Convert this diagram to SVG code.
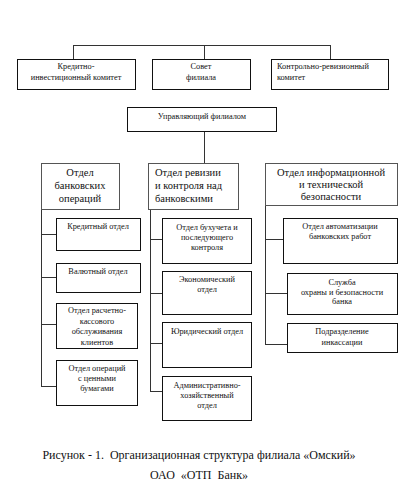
<svg xmlns="http://www.w3.org/2000/svg" width="400" height="495" viewBox="0 0 400 495">
<style>
rect{fill:#fff;stroke:#111;stroke-width:1}
rect.h{stroke:#555}
.c line{stroke:#333;stroke-width:1}
text{font-family:"Liberation Serif","Times New Roman",serif;fill:#111;text-anchor:middle}
.s{font-size:8.3px}
.m{font-size:10.5px}
.l{text-anchor:start}
.cap{font-size:12px}
</style>
<rect x="0" y="0" width="400" height="495" style="stroke:none;fill:#fff"/>
<g class="c" id="connectors">
<line x1="73" y1="45.5" x2="330" y2="45.5"/>
<line x1="73.5" y1="45" x2="73.5" y2="59"/>
<line x1="204.5" y1="45" x2="204.5" y2="59"/>
<line x1="330.5" y1="45" x2="330.5" y2="59"/>
<line x1="204.5" y1="131" x2="204.5" y2="163"/>
<line x1="41.5" y1="209" x2="41.5" y2="386"/>
<line x1="41" y1="234.5" x2="56" y2="234.5"/>
<line x1="41" y1="277.5" x2="56" y2="277.5"/>
<line x1="41" y1="324.5" x2="56" y2="324.5"/>
<line x1="41" y1="386.5" x2="56" y2="386.5"/>
<line x1="150.5" y1="209" x2="150.5" y2="391"/>
<line x1="150" y1="239.5" x2="162" y2="239.5"/>
<line x1="150" y1="293.5" x2="162" y2="293.5"/>
<line x1="150" y1="343.5" x2="162" y2="343.5"/>
<line x1="150" y1="391.5" x2="162" y2="391.5"/>
<line x1="265.5" y1="205" x2="265.5" y2="344"/>
<line x1="265" y1="239.5" x2="283" y2="239.5"/>
<line x1="265" y1="293.5" x2="287" y2="293.5"/>
<line x1="265" y1="344.5" x2="287" y2="344.5"/>
</g>
<g id="kredit-invest">
<rect x="17.5" y="59.5" width="118" height="30"/>
<text class="s" x="76" y="69">Кредитно-</text>
<text class="s" x="76" y="80">инвестиционный комитет</text>
</g>
<g id="sovet">
<rect x="152.5" y="59.5" width="98" height="30"/>
<text class="s" x="201" y="69">Совет</text>
<text class="s" x="201" y="80">филиала</text>
</g>
<g id="kontrol-reviz">
<rect x="271.5" y="59.5" width="117" height="30"/>
<text class="s l" x="277" y="69">Контрольно-ревизионный</text>
<text class="s l" x="277" y="80">комитет</text>
</g>
<g id="upravl">
<rect x="127.5" y="107.5" width="149" height="24"/>
<text class="s" x="202" y="119">Управляющий филиалом</text>
</g>
<g id="otdel-bank-oper">
<rect class="h" x="41.5" y="163.5" width="78" height="46"/>
<text class="m" x="80" y="176">Отдел</text>
<text class="m" x="80" y="189">банковских</text>
<text class="m" x="80" y="202">операций</text>
</g>
<g id="otdel-reviz">
<rect class="h" x="148.5" y="163.5" width="90" height="46"/>
<text class="m l" x="155" y="176">Отдел ревизии</text>
<text class="m l" x="155" y="189">и контроля над</text>
<text class="m l" x="155" y="202">банковскими</text>
</g>
<g id="otdel-inform">
<rect class="h" x="265.5" y="163.5" width="132" height="42"/>
<text class="m" x="331" y="176">Отдел информационной</text>
<text class="m" x="331" y="188">и технической</text>
<text class="m" x="331" y="200">безопасности</text>
</g>
<g id="kredit-otdel">
<rect x="56.5" y="218.5" width="84" height="32"/>
<text class="s" x="98" y="229">Кредитный отдел</text>
</g>
<g id="valut-otdel">
<rect x="56.5" y="263.5" width="84" height="29"/>
<text class="s" x="98" y="274">Валютный отдел</text>
</g>
<g id="rasch-kass">
<rect x="56.5" y="303.5" width="81" height="45"/>
<text class="s" x="97" y="313">Отдел расчетно-</text>
<text class="s" x="97" y="323.5">кассового</text>
<text class="s" x="97" y="334">обслуживания</text>
<text class="s" x="97" y="344.5">клиентов</text>
</g>
<g id="cennye-bumagi">
<rect x="56.5" y="360.5" width="81" height="45"/>
<text class="s" x="97" y="371">Отдел операций</text>
<text class="s" x="97" y="381">с ценными</text>
<text class="s" x="97" y="391">бумагами</text>
</g>
<g id="buhuchet">
<rect x="162.5" y="218.5" width="89" height="45"/>
<text class="s" x="207" y="230">Отдел бухучета и</text>
<text class="s" x="207" y="240">последующего</text>
<text class="s" x="207" y="250">контроля</text>
</g>
<g id="ekonom">
<rect x="162.5" y="271.5" width="89" height="43"/>
<text class="s" x="207" y="282">Экономический</text>
<text class="s" x="207" y="292">отдел</text>
</g>
<g id="yurid">
<rect x="162.5" y="322.5" width="89" height="45"/>
<text class="s" x="207" y="334">Юридический отдел</text>
</g>
<g id="admin-hoz">
<rect x="162.5" y="376.5" width="89" height="44"/>
<text class="s" x="207" y="388">Административно-</text>
<text class="s" x="207" y="398">хозяйственный</text>
<text class="s" x="207" y="408">отдел</text>
</g>
<g id="avtomat">
<rect x="283.5" y="218.5" width="114" height="45"/>
<text class="s" x="340" y="229">Отдел автоматизации</text>
<text class="s" x="340" y="239">банковских работ</text>
</g>
<g id="ohrana">
<rect x="287.5" y="273.5" width="110" height="41"/>
<text class="s" x="342" y="285">Служба</text>
<text class="s" x="342" y="294.5">охраны и безопасности</text>
<text class="s" x="342" y="304">банка</text>
</g>
<g id="inkass">
<rect x="287.5" y="323.5" width="110" height="29"/>
<text class="s" x="342" y="334">Подразделение</text>
<text class="s" x="342" y="345">инкассации</text>
</g>
<g id="caption">
<text class="cap" x="199" y="459" xml:space="preserve">Рисунок - 1.  Организационная структура филиала «Омский»</text>
<text class="cap" x="199" y="479" xml:space="preserve">ОАО  «ОТП  Банк»</text>
</g>
</svg>
